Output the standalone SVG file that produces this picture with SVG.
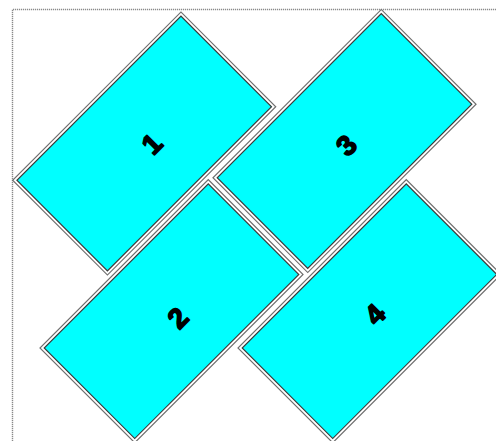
<svg xmlns="http://www.w3.org/2000/svg" width="496" height="441" viewBox="0 0 496 441">
<style>
.outer{fill:#ffffff;stroke:#6e6e6e;stroke-width:1.2}
.inner{fill:#00ffff;stroke:#3a3a3a;stroke-width:1.2}
.lbl{font-family:"Liberation Sans",Arial,sans-serif;font-weight:bold;font-size:28px;fill:#000;stroke:#000;stroke-width:1.6;stroke-linejoin:round;text-anchor:middle;dominant-baseline:central}
.page{fill:none;stroke:#8a8a8a;stroke-width:1.4;stroke-dasharray:1.2 0.8}
</style>
<rect width="496" height="441" fill="#ffffff"/>
<path class="page" d="M12.5 441 V9.5 H496"/>
<g id="node1" transform="translate(144.2 143.5) rotate(-45)">
<rect class="outer" x="-119" y="-67" width="238" height="134"/>
<rect class="inner" x="-116" y="-64" width="232" height="128"/>
</g>
<g id="node3" transform="translate(344.5 141) rotate(-45)">
<rect class="outer" x="-119" y="-67" width="238" height="134"/>
<rect class="inner" x="-116" y="-64" width="232" height="128"/>
</g>
<g id="node2" transform="translate(171.5 311.2) rotate(-45)">
<rect class="outer" x="-119" y="-67" width="238" height="134"/>
<rect class="inner" x="-116" y="-64" width="232" height="128"/>
</g>
<g id="node4" transform="translate(369.5 311.2) rotate(-45)">
<rect class="outer" x="-119" y="-67" width="238" height="134"/>
<rect class="inner" x="-116" y="-64" width="232" height="128"/>
</g>
<g id="labels">
<text class="lbl" transform="translate(152 144) rotate(-45)">1</text>
<text class="lbl" transform="translate(346.5 145.5) rotate(-45)">3</text>
<text class="lbl" transform="translate(178 318) rotate(-45)">2</text>
<text class="lbl" transform="translate(375 314.5) rotate(-45)">4</text>
</g>
<g id="connectors"/>
</svg>
